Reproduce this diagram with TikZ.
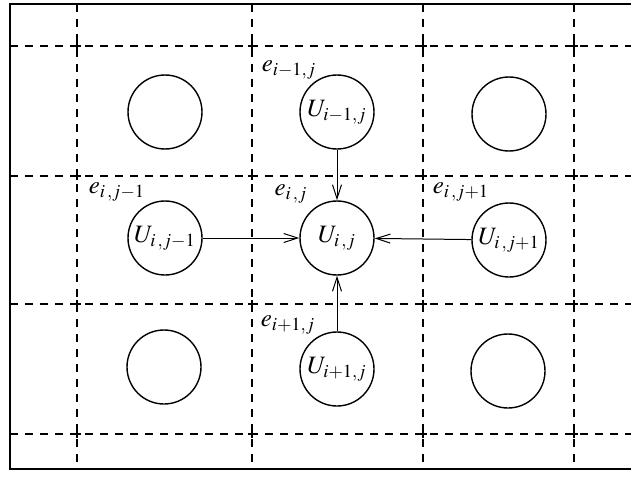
\documentclass[tikz,border=0pt]{standalone}
\usepackage{mathptmx}
\usetikzlibrary{arrows.meta}
\tikzset{
  cell/.style={circle,draw,line width=0.7pt,minimum size=37pt,inner sep=0pt,font=\fontsize{12.5}{14}\selectfont},
  grid/.style={line width=0.55pt,dash pattern=on 4pt off 3.5pt},
  frame/.style={line width=0.75pt},
  flow/.style={line width=0.5pt,-{Straight Barb[length=7pt,width=4.5pt]}},
  elab/.style={font=\fontsize{12.5}{14}\selectfont,inner sep=0pt},
  tick/.style={line width=0.55pt}
}
\begin{document}
\begin{tikzpicture}[x=0.5pt,y=-0.5pt]
\useasboundingbox (0,0) rectangle (631,481);
% frame (right side open)
\draw[frame] (631,4) -- (10,4) -- (10,469) -- (631,469);
% dashed grid
\foreach \gx in {77,252,423,574} \draw[grid] (\gx,4) -- (\gx,469);
\foreach \gy in {46,176,304,434} \draw[grid] (10,\gy) -- (631,\gy);
\foreach \gx in {77,252,423,574}
  \foreach \gy in {46,176,304,434}
    {\draw[tick] (\gx-4,\gy) -- (\gx+4,\gy); \draw[tick] (\gx,\gy-4) -- (\gx,\gy+4);}
% cells
\node[cell] (tl) at (165,112) {};
\node[cell] (up) at (337,112) {$U_{i-1,j}$};
\node[cell] (tr) at (509,114) {};
\node[cell] (lf) at (165,238) {$U_{i\,,j-1}$};
\node[cell] (ce) at (337,238) {$U_{i\,,j}$};
\node[cell] (rt) at (509,240) {$U_{i\,,j+1}$};
\node[cell] (bl) at (164,367) {};
\node[cell] (dn) at (337,369) {$U_{i+1,j}$};
\node[cell] (br) at (508,371) {};
% labels
\node[elab] (e1) at (289,70) {$e_{i-1,j}$};
\node[elab] (e2) at (117,192) {$e_{i\,,j-1}$};
\node[elab] (e3) at (291,194) {$e_{i\,,j}$};
\node[elab] (e4) at (461,192) {$e_{i\,,j+1}$};
\node[elab] (e5) at (288,325) {$e_{i+1,j}$};
% arrows
\draw[flow] (up) -- (ce);
\draw[flow] (lf) -- (ce);
\draw[flow] (rt) -- (ce);
\draw[flow] (dn) -- (ce);
\end{tikzpicture}
\end{document}
